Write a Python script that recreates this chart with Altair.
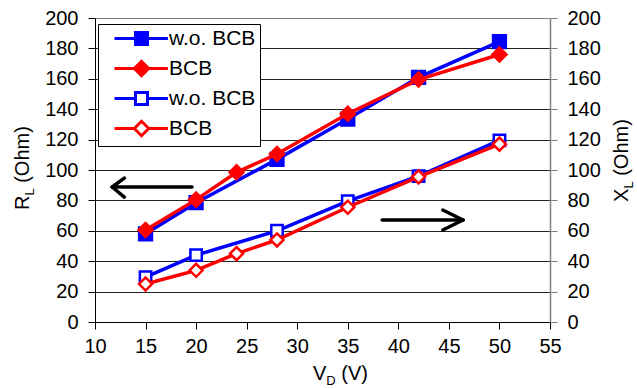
import altair as alt
import pandas as pd

# ---- data ----
vd_wo = [15, 20, 28, 35, 42, 50]
vd_bcb = [15, 20, 24, 28, 35, 42, 50]
rl_wo = [58, 78.5, 107, 133.5, 161, 184.5]
rl_bcb = [60.5, 80.5, 98.5, 110.5, 137, 159.5, 176]
xl_wo = [29.5, 44, 60, 79.5, 96, 119.5]
xl_bcb = [25, 34, 45, 54, 75.5, 95.5, 117]

series_names = ["R w.o. BCB", "R BCB", "X w.o. BCB", "X BCB"]
x_ticks = [10, 15, 20, 25, 30, 35, 40, 45, 50, 55]
y_ticks = [0, 20, 40, 60, 80, 100, 120, 140, 160, 180, 200]

# arrow annotations (data coordinates)
arrow_x = [11.7, 11.7, 11.7, 38.4, 46.4, 46.4]
arrow_x2 = [19.6, 12.9, 12.9, 46.4, 44.4, 44.4]
arrow_y = [88.8, 88.8, 88.8, 67.1, 67.1, 67.1]
arrow_y2 = [88.8, 94.7, 82.2, 67.1, 73.7, 60.5]

BLUE = "#0000FF"
RED = "#FF0000"
FONT = "Liberation Sans"
W, H = 455, 304

xs = alt.Scale(domain=[10, 55], nice=False, zero=False)
ys = alt.Scale(domain=[0, 200], nice=False)

xaxis = alt.Axis(values=x_ticks, title=None, grid=False, domainColor="black",
                 tickColor="black", tickSize=7, labelPadding=7, labelFontSize=20,
                 labelFont=FONT, labelColor="black", labelFlush=False,
                 labelOverlap=False, domainWidth=1)
yaxisL = alt.Axis(values=y_ticks, title=None, orient="left", grid=True,
                  gridColor=alt.condition("datum.value == 200", alt.value("#808080"), alt.value("#222222")),
                  gridWidth=1, domainColor="black", tickColor="black", tickSize=7,
                  labelPadding=10, labelFontSize=20, labelFont=FONT, labelColor="black",
                  labelFlush=False, labelOverlap=False)
yaxisR = alt.Axis(values=y_ticks, title=None, orient="right", grid=False,
                  domainColor="#808080", tickColor="#808080", tickSize=7, domainWidth=1.5,
                  labelPadding=10, labelFontSize=20, labelFont=FONT, labelColor="black",
                  labelFlush=False, labelOverlap=False)


def series_layers(xv, yv, color, shape, filled, size, yaxis):
    df = pd.DataFrame({"x": xv, "y": yv})
    base = alt.Chart(df)
    enc = dict(x=alt.X("x:Q", scale=xs, axis=xaxis), y=alt.Y("y:Q", scale=ys, axis=yaxis))
    line = base.mark_line(color=color, strokeWidth=3.5).encode(**enc)
    pts = base.mark_point(shape=shape, filled=True, fill=(color if filled else "white"),
                          stroke=color, strokeWidth=(1.5 if filled else 2.5),
                          size=size, opacity=1).encode(**enc)
    return [line, pts]


# legend symbols: line + marker as custom paths
sq_path = "M-4.5,0H-1M1,0H4.4M-1,-1H1V1H-1Z"
di_path = "M-4.5,0H-1.2M1.2,0H4.4M-1.2,0L0,-1.2L1.2,0L0,1.2Z"

leg = alt.Legend(title=None, orient="none", legendX=3, legendY=6, strokeColor="black",
                 fillColor="white", padding=4, labelFontSize=21, labelFont=FONT,
                 labelColor="black", symbolOffset=29, labelOffset=17, rowPadding=4,
                 symbolSize=144, symbolStrokeWidth=3, labelLimit=300,
                 labelExpr="substring(datum.label, 2)")

legend_df = pd.DataFrame({"series": series_names, "x": [15] * 4, "y": [-500] * 4})
legend_layer = alt.Chart(legend_df).mark_point(clip=True, opacity=1, filled=True).encode(
    x=alt.X("x:Q", scale=xs, axis=xaxis),
    y=alt.Y("y:Q", scale=ys, axis=yaxisL),
    shape=alt.Shape("series:N", scale=alt.Scale(domain=series_names,
                    range=[sq_path, di_path, sq_path, di_path]), legend=leg),
    fill=alt.Fill("series:N", scale=alt.Scale(domain=series_names,
                  range=[BLUE, RED, "white", "white"]), legend=leg),
    stroke=alt.Stroke("series:N", scale=alt.Scale(domain=series_names,
                      range=[BLUE, RED, BLUE, RED]), legend=leg),
)

arrows_df = pd.DataFrame({"x": arrow_x, "x2": arrow_x2, "y": arrow_y, "y2": arrow_y2})
arrows = alt.Chart(arrows_df).mark_rule(color="black", strokeWidth=3.5, strokeCap="round").encode(
    x=alt.X("x:Q", scale=xs, axis=xaxis), x2="x2:Q",
    y=alt.Y("y:Q", scale=ys, axis=yaxisL), y2="y2:Q",
)

title_df = pd.DataFrame({"k": [0]})


def txt(t, px, py, size, angle=0):
    kw = dict(text=t, font=FONT, fontSize=size, color="black", align="left",
              baseline="alphabetic")
    if angle:
        kw["angle"] = angle
    return alt.Chart(title_df).mark_text(**kw).encode(x=alt.value(px), y=alt.value(py))


titles = [
    txt("R", -66, 192, 20, 270),
    txt("L", -61, 177.6, 13, 270),
    txt("(Ohm)", -66, 164.8, 20, 270),
    txt("X", 533, 184, 20, 270),
    txt("L", 538, 170.6, 13, 270),
    txt("(Ohm)", 533, 157.8, 20, 270),
    txt("V", 218, 362, 20),
    txt("D", 231.3, 367, 13),
    txt("(V)", 246.3, 362, 20),
]

left = alt.layer(
    *series_layers(vd_wo, rl_wo, BLUE, "square", True, 190, yaxisL),
    *series_layers(vd_bcb, rl_bcb, RED, "diamond", True, 240, yaxisL),
    arrows,
    legend_layer,
    *titles,
)
right = alt.layer(
    *series_layers(vd_wo, xl_wo, BLUE, "square", False, 130, yaxisR),
    *series_layers(vd_bcb, xl_bcb, RED, "diamond", False, 170, yaxisR),
)

chart = alt.layer(left, right).resolve_scale(y="independent").properties(
    width=W, height=H,
    autosize=alt.AutoSizeParams(type="none"),
    padding={"left": 95, "top": 18, "right": 87, "bottom": 66},
).configure_view(stroke="transparent").configure(background="white")

chart.save("out.html", embed_options={"renderer": "svg", "actions": False})
